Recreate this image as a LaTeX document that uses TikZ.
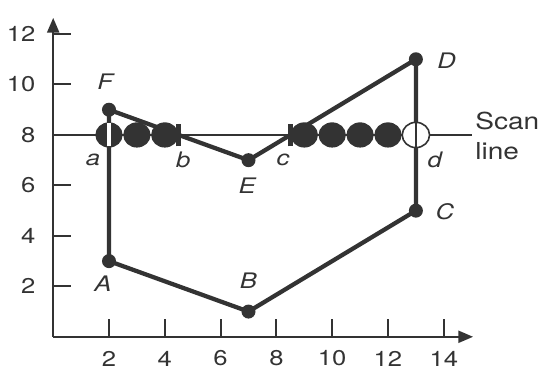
\documentclass[tikz,border=0pt]{standalone}
\usepackage{fontspec}
\setmainfont[FakeStretch=1.2]{TeX Gyre Heros}
\usetikzlibrary{arrows.meta}

\colorlet{ink}{black!80}

\tikzset{
  axis/.style={line width=1.5pt, ink},
  edge/.style={line width=3.2pt, ink, line join=round},
  scanl/.style={line width=1pt, ink},
  vertex/.style={circle, fill=ink, inner sep=0pt, minimum size=10.5pt},
  lbl/.style={inner sep=0pt, text=ink, font=\fontsize{16}{19}\selectfont\itshape},
  num/.style={inner sep=0pt, text=ink, font=\fontsize{16}{19}\selectfont},
  pix/.style={fill=ink},
  barmark/.style={line width=4pt, ink}
}

\begin{document}
\begin{tikzpicture}[x=20.9pt, y=18.9pt]
	\useasboundingbox (-1.907,-1.373) rectangle (17.556,13.349);
	% axes
	\draw[axis, -{Triangle[length=11pt, width=9pt]}] (0,0) -- (15.05,0);
	\draw[axis, -{Triangle[length=11pt, width=9pt]}] (0,0) -- (0,12.64);
	\foreach \t in {2,4,...,14}
		\draw[axis] (\t,0) -- (\t,0.72) node[num] (xl\t) at (\t,-0.86) {\t};
	\foreach \t in {2,4,...,12}
		\draw[axis] (0,\t) -- (0.65,\t) node[num, anchor=east] (yl\t) at (-0.6,\t) {\t};
	% scan line
	\draw[scanl] (0,8) -- (15,8);
	% polygon
	\coordinate (A) at (2,3);
	\coordinate (B) at (7,1);
	\coordinate (C) at (13,5);
	\coordinate (D) at (13,11);
	\coordinate (E) at (7,7);
	\coordinate (F) at (2,9);
	\coordinate (a) at (2,8);
	\coordinate (b) at (4.5,8);
	\coordinate (c) at (8.5,8);
	\coordinate (d) at (13,8);
	\draw[edge] (A) -- (B) -- (C) -- (D) -- (E) -- (F) -- cycle;
	\foreach \p in {A,B,C,D,E,F}
		\node[vertex] (dot\p) at (\p) {};
	% pixels along the scan line
	\foreach \i in {3,4,9,10,11,12}
		\fill[pix] (\i,8) ellipse [x radius=0.49, y radius=0.5];
	\fill[pix] (a) ellipse [x radius=0.49, y radius=0.5];
	\draw[draw=white, line width=2.6pt] ([yshift=-8.6pt]a) -- ([yshift=8.6pt]a);
	\draw[draw=ink, fill=white, line width=1.2pt] (d) ellipse [x radius=0.49, y radius=0.5];
	\draw[draw=ink, line width=1.6pt] ([yshift=-9.45pt]d) -- ([yshift=9.45pt]d);
	\draw[barmark] ([yshift=-8.5pt]b) -- ([yshift=8.5pt]b);
	\draw[barmark] ([yshift=-8.5pt]c) -- ([yshift=8.5pt]c);
	% labels
	\node[lbl] (lA) at (1.78,2.12) {A};
	\node[lbl] (lB) at (7.0,2.24) {B};
	\node[lbl] (lC) at (14.04,4.94) {C};
	\node[lbl] (lD) at (14.1,10.95) {D};
	\node[lbl] (lE) at (6.95,6.0) {E};
	\node[lbl] (lF) at (1.86,10.1) {F};
	\node[lbl] (la) at (1.43,7.0) {a};
	\node[lbl] (lb) at (4.66,7.0) {b};
	\node[lbl] (lc) at (8.24,7.0) {c};
	\node[lbl] (ld) at (13.68,7.0) {d};
	\node[num, anchor=west, align=left, font=\fontsize{17.5}{21.75}\selectfont] (scantext) at (15.12,7.96) {Scan\\line};
\end{tikzpicture}
\end{document}
